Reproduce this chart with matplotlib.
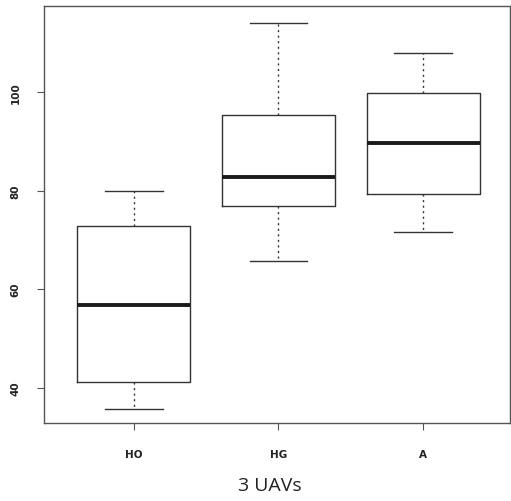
import matplotlib
matplotlib.use("Agg")
import matplotlib.pyplot as plt

# box statistics
groups = ["HO", "HG", "A"]
whisker_low = [35.8, 65.7, 71.7]
q1 = [41.3, 76.9, 79.2]
median = [56.9, 82.8, 89.7]
q3 = [72.8, 95.3, 99.7]
whisker_high = [80.0, 114.0, 107.9]
y_ticks = [40, 60, 80, 100]
x_label = "3 UAVs"

stats = []
for name, lo, a, m, b, hi in zip(groups, whisker_low, q1, median, q3, whisker_high):
    stats.append({"label": name, "whislo": lo, "q1": a, "med": m, "q3": b, "whishi": hi, "fliers": []})

fig = plt.figure(figsize=(5.11, 5.02), dpi=100)
ax = fig.add_axes([0.0861, 0.1554, 0.912, 0.8307])

edge = "#333333"
ax.bxp(
    stats,
    positions=[1, 2, 3],
    widths=0.78,
    showfliers=False,
    boxprops=dict(color=edge, linewidth=1.0),
    medianprops=dict(color="#1a1a1a", linewidth=2.8, solid_capstyle="butt"),
    whiskerprops=dict(color=edge, linewidth=1.0, linestyle=(0, (1.5, 2.5))),
    capprops=dict(color=edge, linewidth=1.0),
    capwidths=0.4,
)

ax.set_xlim(0.38, 3.6)
ax.set_ylim(32.9, 117.4)
ax.set_yticks(y_ticks)
ax.set_yticklabels([str(t) for t in y_ticks], rotation=90, va="center",
                   fontsize=7.5, fontweight="bold", color="#222222")
ax.set_xticks([1, 2, 3])
ax.set_xticklabels(groups, fontsize=7.5, fontweight="bold", color="#222222")
ax.tick_params(axis="both", length=5, width=0.8, color="#555555")
ax.tick_params(axis="x", pad=14)
ax.tick_params(axis="y", pad=12)

for sp in ax.spines.values():
    sp.set_color("#555555")
    sp.set_linewidth(1.0)

fig.text(270 / 511, 1 - 486 / 502, x_label, ha="center", va="center",
         fontsize=14, family="Open Sans", color="#222222")

fig.savefig("out.png", dpi=100)
